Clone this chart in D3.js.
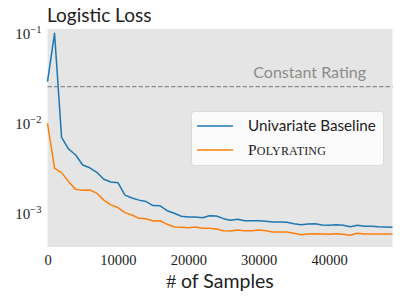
<!DOCTYPE html>
<html><head><meta charset="utf-8">
<script src="https://cdn.jsdelivr.net/npm/d3@7/dist/d3.min.js"></script>
<style>body{margin:0;background:#fff}svg{display:block}</style>
</head><body><svg id="c" width="402" height="301"></svg>
<script>
const samples = d3.range(0, 50000, 1000);
const univariate = [0.0288,0.0992,0.00693,0.00514,0.00441,0.00341,0.00318,0.00283,0.00237,0.00221,
0.00217,0.00158,0.00147,0.00139,0.00134,0.00121,0.00120,0.00106,0.000993,0.000919,
0.000903,0.000903,0.000887,0.000934,0.000926,0.000865,0.000830,0.000851,0.000821,0.000821,
0.000821,0.000809,0.000794,0.000794,0.000788,0.000761,0.000741,0.000755,0.000761,0.000735,
0.000730,0.000741,0.000730,0.000704,0.000730,0.000712,0.000712,0.000704,0.000699,0.000693];
const polyrating = [0.00993,0.00316,0.00281,0.00223,0.00183,0.00179,0.00180,0.00166,0.00139,0.00123,
0.00115,0.00101,0.000950,0.000873,0.000865,0.000815,0.000821,0.000749,0.000699,0.000693,
0.000687,0.000699,0.000676,0.000676,0.000664,0.000636,0.000631,0.000647,0.000636,0.000636,
0.000647,0.000636,0.000615,0.000615,0.000615,0.000595,0.000574,0.000585,0.000589,0.000585,
0.000580,0.000589,0.000580,0.000565,0.000595,0.000585,0.000585,0.000585,0.000585,0.000585];
const constantRating = 0.0253;
const xTicks = [0, 10000, 20000, 30000, 40000];
const yTicks = [1e-1, 1e-2, 1e-3];
const yTickExp = ["−1", "−2", "−3"];
const seriesNames = ["Univariate Baseline", "Polyrating"];
const colors = ["#1f77b4", "#ff7f0e"];

const L = 47.5, R = 392.5, T = 29, B = 247;
const svg = d3.select("#c");
const x = d3.scaleLinear().domain([0, 49000]).range([L, R]);
const y = d3.scaleLog().domain([Math.pow(10, -3 - 34/90), Math.pow(10, -1 + 4/90)]).range([B, T]);

svg.append("rect").attr("x", L).attr("y", T).attr("width", R - L).attr("height", B - T).attr("fill", "#e5e5e5");

const serif = "'Liberation Serif', serif";
const sans = "Lato, 'Noto Sans', sans-serif";

// x axis labels
const xa = svg.append("g").attr("transform", `translate(0,${B})`)
  .call(d3.axisBottom(x).tickValues(xTicks).tickSize(0).tickPadding(0).tickFormat(d3.format("d")));
xa.select(".domain").remove();
xa.selectAll("text").attr("dy", null).attr("y", 18).attr("font-family", serif).attr("font-size", 14.5).attr("fill", "#222");

// y axis labels
const ya = svg.append("g").attr("transform", `translate(${L},0)`)
  .call(d3.axisLeft(y).tickValues(yTicks).tickSize(0).tickFormat(() => ""));
ya.select(".domain").remove();
ya.selectAll(".tick").each(function(d, i) {
  const t = d3.select(this).select("text").attr("x", -6).attr("dy", null).attr("y", 5.5)
    .attr("font-family", serif).attr("font-size", 15).attr("fill", "#222").attr("text-anchor", "end");
  t.append("tspan").text("10");
  t.append("tspan").attr("dy", -6).attr("font-size", 10.5).text(yTickExp[i]);
});

// constant rating
svg.append("line").attr("x1", L).attr("x2", R).attr("y1", y(constantRating)).attr("y2", y(constantRating))
  .attr("stroke", "#8c8c8c").attr("stroke-width", 1.3).attr("stroke-dasharray", "4.5,2");
svg.append("text").attr("x", 366).attr("y", y(constantRating) - 9).attr("text-anchor", "end")
  .attr("font-family", sans).attr("font-size", 16).attr("fill", "#8c8c8c").text("Constant Rating");

const line = d3.line().x((d, i) => x(samples[i])).y(d => y(d));
[univariate, polyrating].forEach((s, k) => {
  svg.append("path").datum(s).attr("d", line).attr("fill", "none")
    .attr("stroke", colors[k]).attr("stroke-width", 1.5).attr("stroke-linejoin", "round");
});

// legend
const lg = svg.append("g");
lg.append("rect").attr("x", 191.5).attr("y", 111.5).attr("width", 192).attr("height", 54).attr("rx", 3)
  .attr("fill", "#fbfbfb").attr("stroke", "#d6d6d6").attr("stroke-width", 0.8);
const ly = [126, 150];
seriesNames.forEach((n, k) => {
  lg.append("line").attr("x1", 197).attr("x2", 233).attr("y1", ly[k]).attr("y2", ly[k])
    .attr("stroke", colors[k]).attr("stroke-width", 1.5);
});
lg.append("text").attr("x", 248).attr("y", ly[0] + 5).attr("font-family", sans).attr("font-size", 15.2)
  .attr("fill", "#222").text(seriesNames[0]);
const pt = lg.append("text").attr("x", 248).attr("y", ly[1] + 5).attr("font-family", serif).attr("font-size", 15.5)
  .attr("fill", "#222").attr("letter-spacing", 0.2);
pt.append("tspan").text("P");
pt.append("tspan").attr("font-size", 12).text("OLYRATING");

// title
svg.append("text").attr("x", 47).attr("y", 22).attr("font-family", sans).attr("font-size", 19)
  .attr("fill", "#222").text("Logistic Loss");

// x label
const xl = svg.append("text").attr("x", 220).attr("y", 288).attr("text-anchor", "middle")
  .attr("font-size", 19.5).attr("fill", "#222");
xl.append("tspan").attr("font-family", serif).text("#");
xl.append("tspan").attr("font-family", sans).text(" of Samples");
</script></body></html>
